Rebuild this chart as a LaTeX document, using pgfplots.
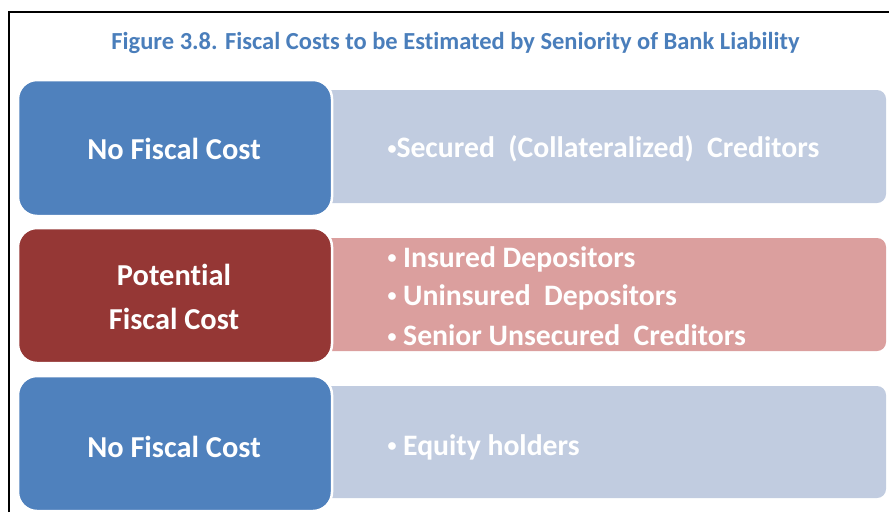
\documentclass[border=0pt]{standalone}
\usepackage{pgfplots}
\pgfplotsset{compat=1.18}
\usepackage{fontspec}
\setmainfont{Carlito}[Ligatures=NoCommon]
\definecolor{darkblue}{HTML}{4F81BD}
\definecolor{darkred}{HTML}{953735}
\definecolor{lightblue}{HTML}{C1CCE0}
\definecolor{lightred}{HTML}{DB9F9E}
\definecolor{titleblue}{HTML}{4A7EBB}
\newcommand{\bul}{{\fontsize{18}{18}\selectfont\raisebox{0.18em}{•}}}
\begin{document}
\begin{tikzpicture}
\begin{axis}[width=889pt, height=512pt, scale only axis,
  xmin=0, xmax=889, ymin=0, ymax=512, y dir=reverse,
  hide axis, clip=true]
% frame
\addplot[black, line width=1.6pt] coordinates {(9,512) (9,12) (889,12)};
% light boxes
\addplot[fill=lightblue, draw=none, rounded corners=9pt] coordinates {(600,90) (886,90) (886,203) (300,203) (300,90)} -- cycle;
\addplot[fill=lightred, draw=none, rounded corners=9pt] coordinates {(600,238) (886,238) (886,351) (300,351) (300,238)} -- cycle;
\addplot[fill=lightblue, draw=none, rounded corners=9pt] coordinates {(600,386) (886,386) (886,498) (300,498) (300,386)} -- cycle;
% dark boxes
\addplot[fill=darkblue, draw=white, line width=2.5pt, rounded corners=19pt] coordinates {(175,80) (332,80) (332,216) (18,216) (18,80)} -- cycle;
\addplot[fill=darkred, draw=white, line width=2.5pt, rounded corners=19pt] coordinates {(175,228) (332,228) (332,363) (18,363) (18,228)} -- cycle;
\addplot[fill=darkblue, draw=white, line width=2.5pt, rounded corners=19pt] coordinates {(175,376) (332,376) (332,511) (18,511) (18,376)} -- cycle;
% title
\node[text=titleblue, font=\bfseries\fontsize{24.5}{28}\selectfont] at (axis cs:455.5,43) {Figure 3.8. Fiscal Costs to be Estimated by Seniority of\ Bank Liability};
% dark box text
\node[text=white, font=\bfseries\fontsize{30.4}{34}\selectfont] at (axis cs:174,149) {No Fiscal Cost};
\node[text=white, font=\bfseries\fontsize{30.4}{34}\selectfont] at (axis cs:174,275) {Potential};
\node[text=white, font=\bfseries\fontsize{30.4}{34}\selectfont] at (axis cs:174,319) {Fiscal Cost};
\node[text=white, font=\bfseries\fontsize{30.4}{34}\selectfont] at (axis cs:174,447) {No Fiscal Cost};
% light box text
\node[text=white, anchor=west, font=\bfseries\fontsize{29.7}{34}\selectfont] at (axis cs:384,149) {\bul Secured\ \ (Collateralized)\ \ Creditors};
\node[text=white, anchor=west, font=\bfseries\fontsize{29.7}{34}\selectfont] at (axis cs:384,259) {\bul\ Insured Depositors};
\node[text=white, anchor=west, font=\bfseries\fontsize{29.7}{34}\selectfont] at (axis cs:384,297) {\bul\ Uninsured\ \ Depositors};
\node[text=white, anchor=west, font=\bfseries\fontsize{29.7}{34}\selectfont] at (axis cs:384,335) {\bul\ Senior Unsecured\ \ Creditors};
\node[text=white, anchor=west, font=\bfseries\fontsize{29.7}{34}\selectfont] at (axis cs:384,447) {\bul\ Equity holders};
\end{axis}
\pgfresetboundingbox
\path (current axis.south west) rectangle (current axis.north east);
\end{tikzpicture}
\end{document}
